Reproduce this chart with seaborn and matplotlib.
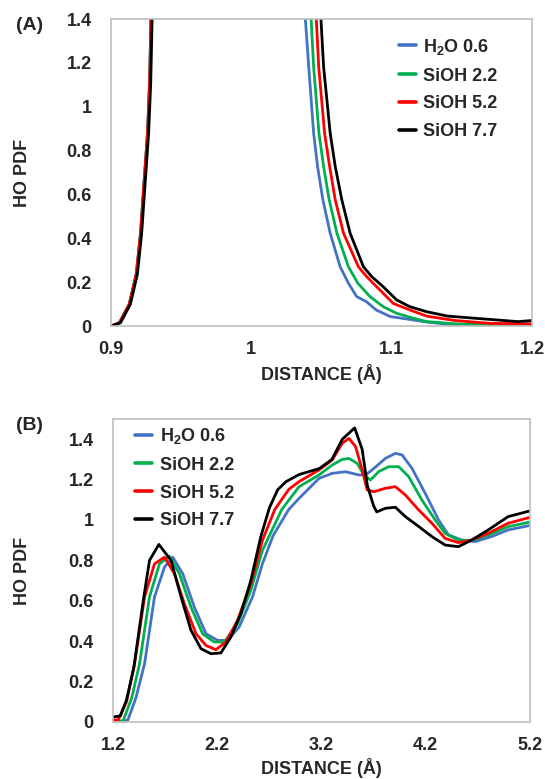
import matplotlib
matplotlib.use("Agg")
import matplotlib.pyplot as plt
import pandas as pd
import seaborn as sns

# series names / colours
names = ["H$_2$O 0.6", "SiOH 2.2", "SiOH 5.2", "SiOH 7.7"]
colors = ["#4472C4", "#00B050", "#FF0000", "#000000"]

# ---- panel A: short range HO PDF (first peak, clipped at 1.4) ----
a_rise_x = [0.900, 0.906, 0.913, 0.918, 0.921, 0.9235, 0.926, 0.9275, 0.9285, 0.935, 0.96, 0.985, 1.01, 1.03]
a_rise_y = [0.0, 0.015, 0.099, 0.236, 0.419, 0.648, 0.877, 1.106, 1.40, 2.5, 6.0, 8.0, 6.0, 2.5]
a_black_shift = 0.0008  # black rising edge sits a hair to the right

a_fall_x = [
    [1.0385, 1.0409, 1.0444, 1.0472, 1.051, 1.0562, 1.0633, 1.0692, 1.0751, 1.082, 1.089, 1.099, 1.113,
     1.125, 1.14, 1.16, 1.2],
    [1.0426, 1.0444, 1.0482, 1.0515, 1.0555, 1.061, 1.0692, 1.0759, 1.0846, 1.094, 1.1035, 1.113, 1.125,
     1.15, 1.2],
    [1.0463, 1.048, 1.0522, 1.0558, 1.0598, 1.0657, 1.0763, 1.0822, 1.0893, 1.094, 1.1011, 1.113, 1.125,
     1.145, 1.17, 1.2],
    [1.0496, 1.0515, 1.0562, 1.0598, 1.0645, 1.0704, 1.0799, 1.0858, 1.094, 1.1035, 1.113, 1.125, 1.14,
     1.16, 1.18, 1.19, 1.2],
]
a_fall_y = [
    [1.40, 1.182, 0.879, 0.727, 0.575, 0.423, 0.27, 0.195, 0.134, 0.111, 0.073, 0.043, 0.03,
     0.018, 0.008, 0.002, 0.0],
    [1.40, 1.182, 0.879, 0.727, 0.575, 0.423, 0.27, 0.195, 0.134, 0.088, 0.058, 0.04, 0.02,
     0.008, 0.003],
    [1.40, 1.182, 0.879, 0.727, 0.575, 0.423, 0.27, 0.225, 0.179, 0.149, 0.103, 0.073, 0.045,
     0.025, 0.012, 0.01],
    [1.40, 1.182, 0.879, 0.727, 0.575, 0.423, 0.27, 0.225, 0.179, 0.119, 0.088, 0.065, 0.045,
     0.035, 0.025, 0.02, 0.025],
]

# ---- panel B: longer range HO PDF ----
b_x = [
    [1.20, 1.30, 1.343, 1.42, 1.503, 1.598, 1.694, 1.773, 1.869, 1.98, 2.092, 2.203, 2.299, 2.41, 2.538, 2.633,
     2.737, 2.887, 2.985, 3.176, 3.303, 3.431, 3.559, 3.622, 3.686, 3.813, 3.909, 3.973, 4.068, 4.195, 4.323,
     4.418, 4.545, 4.673, 4.832, 4.991, 5.2],
    [1.20, 1.296, 1.38, 1.455, 1.55, 1.646, 1.741, 1.837, 1.948, 2.06, 2.171, 2.267, 2.394, 2.522, 2.633,
     2.82, 2.985, 3.176, 3.303, 3.399, 3.463, 3.543, 3.606, 3.670, 3.750, 3.845, 3.941, 4.036, 4.163, 4.291,
     4.386, 4.513, 4.641, 4.80, 4.991, 5.2],
    [1.20, 1.25, 1.33, 1.407, 1.503, 1.598, 1.694, 1.789, 1.885, 1.996, 2.092, 2.187, 2.283, 2.394, 2.522,
     2.633, 2.753, 2.887, 2.985, 3.176, 3.303, 3.399, 3.463, 3.527, 3.590, 3.638, 3.702, 3.813, 3.909, 4.004,
     4.132, 4.259, 4.386, 4.513, 4.641, 4.80, 4.991, 5.2],
    [1.20, 1.27, 1.30, 1.33, 1.40, 1.49, 1.55, 1.64, 1.757, 1.853, 1.948, 2.044, 2.139, 2.235, 2.33, 2.426,
     2.522, 2.617, 2.70, 2.78, 2.86, 2.985, 3.18, 3.30, 3.40, 3.518, 3.59, 3.64, 3.70, 3.73, 3.813, 3.909,
     4.004, 4.132, 4.259, 4.386, 4.513, 4.641, 4.80, 4.991, 5.2],
]
b_y = [
    [0.0, 0.005, 0.01, 0.12, 0.289, 0.619, 0.767, 0.816, 0.734, 0.569, 0.437, 0.404, 0.404, 0.47, 0.619, 0.783,
     0.924, 1.053, 1.107, 1.206, 1.231, 1.239, 1.223, 1.223, 1.248, 1.305, 1.33, 1.322, 1.256, 1.132, 1.0,
     0.926, 0.901, 0.893, 0.918, 0.951, 0.973],
    [0.005, 0.005, 0.12, 0.289, 0.619, 0.783, 0.82, 0.734, 0.569, 0.437, 0.396, 0.396, 0.486, 0.651, 0.849,
     1.053, 1.165, 1.223, 1.272, 1.30, 1.305, 1.28, 1.223, 1.198, 1.24, 1.264, 1.264, 1.215, 1.099, 1.0,
     0.934, 0.901, 0.898, 0.926, 0.967, 0.99],
    [0.01, 0.01, 0.10, 0.289, 0.619, 0.783, 0.816, 0.734, 0.585, 0.437, 0.379, 0.358, 0.396, 0.503, 0.684,
     0.899, 1.053, 1.152, 1.19, 1.248, 1.297, 1.38, 1.404, 1.363, 1.248, 1.149, 1.14, 1.157, 1.165, 1.124,
     1.05, 0.984, 0.909, 0.888, 0.901, 0.934, 0.984, 1.013],
    [0.025, 0.03, 0.07, 0.11, 0.27, 0.60, 0.80, 0.879, 0.80, 0.619, 0.454, 0.363, 0.338, 0.342, 0.42, 0.536,
     0.70, 0.916, 1.06, 1.15, 1.19, 1.225, 1.255, 1.30, 1.40, 1.456, 1.35, 1.17, 1.07, 1.04, 1.058, 1.063,
     1.017, 0.968, 0.918, 0.876, 0.868, 0.901, 0.951, 1.017, 1.045],
]

a_xticks = [0.9, 1.0, 1.1, 1.2]
b_xticks = [1.2, 2.2, 3.2, 4.2, 5.2]
y_ticks = [0, 0.2, 0.4, 0.6, 0.8, 1.0, 1.2, 1.4]

# long tables for seaborn
rows_a = []
for i, n in enumerate(names):
    shift = a_black_shift if i == 3 else 0.0
    for x, y in zip(a_rise_x, a_rise_y):
        rows_a.append((n, x + shift if y <= 1.4 else x, y))
    for x, y in zip(a_fall_x[i], a_fall_y[i]):
        rows_a.append((n, x, y))
df_a = pd.DataFrame(rows_a, columns=["series", "distance", "pdf"])

rows_b = []
for i, n in enumerate(names):
    for x, y in zip(b_x[i], b_y[i]):
        rows_b.append((n, x, y))
df_b = pd.DataFrame(rows_b, columns=["series", "distance", "pdf"])

sns.set_theme(style="white")
plt.rcParams["font.family"] = ["Liberation Sans", "DejaVu Sans"]
plt.rcParams["font.weight"] = "bold"
plt.rcParams["mathtext.fontset"] = "custom"
plt.rcParams["mathtext.rm"] = "Liberation Sans:bold"
plt.rcParams["mathtext.it"] = "Liberation Sans:bold"
plt.rcParams["mathtext.bf"] = "Liberation Sans:bold"

W, H = 545, 779
fig = plt.figure(figsize=(W / 100, H / 100), dpi=100)
ax_a = fig.add_axes([111 / W, 1 - 326 / H, 421 / W, 307 / H])
ax_b = fig.add_axes([113 / W, 1 - 722 / H, 417 / W, 303 / H])

pal = dict(zip(names, colors))
fs = 13

for ax, df in [(ax_a, df_a), (ax_b, df_b)]:
    sns.lineplot(data=df, x="distance", y="pdf", hue="series", palette=pal,
                 hue_order=names, estimator=None, sort=False, linewidth=2.0, ax=ax)
    for s in ax.spines.values():
        s.set_color("#BFBFBF")
        s.set_linewidth(1.2)
    ax.tick_params(length=0, labelsize=fs)
    ax.tick_params(axis="x", pad=11)
    ax.tick_params(axis="y", pad=14)
    ax.set_ylabel("HO PDF", fontsize=fs, fontweight="bold")
    ax.set_xlabel("DISTANCE (\u00c5)", fontsize=fs, fontweight="bold")
    ax.set_yticks(y_ticks)
    ax.set_yticklabels([f"{v:g}" for v in y_ticks])
    for t in ax.get_xticklabels() + ax.get_yticklabels():
        t.set_fontweight("bold")

ax_a.set_xlim(0.9, 1.2)
ax_a.set_ylim(0, 1.4)
ax_a.set_xticks(a_xticks)
ax_a.set_xticklabels([f"{v:g}" for v in a_xticks], fontweight="bold")
ax_a.xaxis.set_label_coords(0.5, -0.125)
ax_a.yaxis.set_label_coords(-0.19, 0.5)

ax_b.set_xlim(1.2, 5.2)
ax_b.set_ylim(0, 1.5)
ax_b.set_xticks(b_xticks)
ax_b.set_xticklabels([f"{v:g}" for v in b_xticks], fontweight="bold")
ax_b.xaxis.set_label_coords(0.5, -0.118)
ax_b.yaxis.set_label_coords(-0.197, 0.5)

leg_kw = dict(title=None, frameon=False, fontsize=fs, handlelength=0.95,
              handletextpad=0.42, labelspacing=0.6, borderpad=0, borderaxespad=0)
sns.move_legend(ax_a, "upper left", bbox_to_anchor=(0.683, 0.942), **leg_kw)
sns.move_legend(ax_b, "upper left", bbox_to_anchor=(0.053, 0.977), **leg_kw)
for ax in (ax_a, ax_b):
    for t in ax.get_legend().get_texts():
        t.set_fontweight("bold")
    for h in ax.get_legend().legend_handles:
        h.set_linewidth(2.6)

fig.text(16 / W, 1 - 25 / H, "(A)", fontsize=14, fontweight="bold", va="center", ha="left")
fig.text(16 / W, 1 - 425 / H, "(B)", fontsize=14, fontweight="bold", va="center", ha="left")

fig.savefig("out.png", dpi=100)
